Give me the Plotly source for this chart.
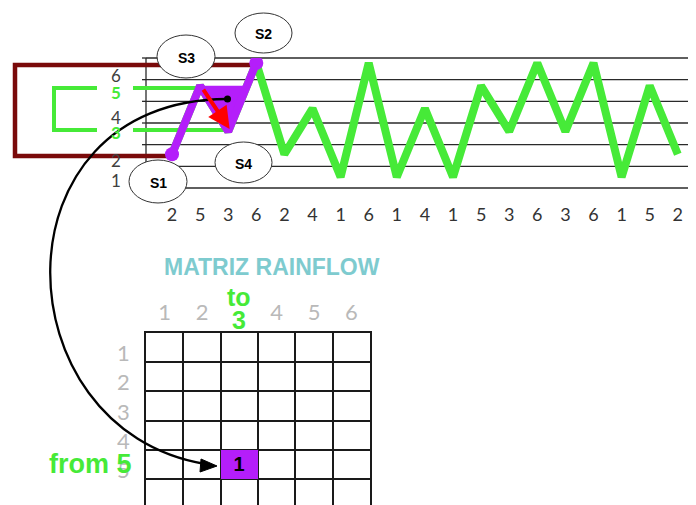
import plotly.graph_objects as go

# load history (levels)
levels = [2, 5, 3, 6, 2, 4, 1, 6, 1, 4, 1, 5, 3, 6, 3, 6, 1, 5, 2]
level_labels = ["1", "2", "3", "4", "5", "6"]

# the extracted cycle: S1 -> S3 -> S4 -> S2
cycle_idx = [0, 1, 2, 3]
cycle_names = ["S1", "S3", "S4", "S2"]

# rainflow matrix
matrix_rows = [1, 2, 3, 4, 5, 6]   # from
matrix_cols = [1, 2, 3, 4, 5, 6]   # to
cycle_from = 5
cycle_to = 3
cycle_count = 1

# page body has an 8px margin, so the figure is made that much smaller
OFF = 8
W, H = 696 - OFF, 505 - OFF
GREEN = "#46ea38"
PURPLE = "#b41efa"
DARKRED = "#7a0a0a"
TEAL = "#7ecbcf"
GRAY = "#b9b9b9"
FONT = "Lato"


def px(x):
    return (x - OFF) / W


def py(y):
    return 1 - (y - OFF) / H


fig = go.Figure()

# load history
fig.add_trace(go.Scatter(
    x=list(range(len(levels))), y=levels, mode="lines",
    line=dict(color=GREEN, width=8), hoverinfo="skip", showlegend=False))

# cycle highlight: triangle between S3, S4 and where S4->S2 crosses the S3 level
cx = cycle_idx
cy = [levels[i] for i in cycle_idx]
x_cross = cx[2] + (cy[1] - cy[2]) / (cy[3] - cy[2])
fig.add_trace(go.Scatter(
    x=[cx[1], cx[2], x_cross, cx[1]], y=[cy[1], cy[2], cy[1], cy[1]],
    mode="lines", fill="toself", fillcolor=PURPLE, line=dict(width=0),
    hoverinfo="skip", showlegend=False))
fig.add_trace(go.Scatter(
    x=cx, y=cy, mode="lines", line=dict(color=PURPLE, width=8),
    hoverinfo="skip", showlegend=False))
fig.add_trace(go.Scatter(
    x=[cx[0], cx[-1]], y=[cy[0], cy[-1]], mode="markers",
    marker=dict(color=PURPLE, size=14), hoverinfo="skip", showlegend=False))

# rainflow matrix
z = [[None for _ in matrix_cols] for _ in matrix_rows]
txt = [["" for _ in matrix_cols] for _ in matrix_rows]
z[matrix_rows.index(cycle_from)][matrix_cols.index(cycle_to)] = cycle_count
txt[matrix_rows.index(cycle_from)][matrix_cols.index(cycle_to)] = str(cycle_count)
fig.add_trace(go.Heatmap(
    z=z, x=matrix_cols, y=matrix_rows, text=txt, texttemplate="<b>%{text}</b>",
    textfont=dict(family="Liberation Sans", size=20, color="black"),
    colorscale=[[0, PURPLE], [1, PURPLE]], zmin=0, zmax=1, showscale=False,
    hoverinfo="skip", xaxis="x2", yaxis="y2"))

shapes = []
# chart rulings
top, bot = 58, 188
for k in range(7):
    yy = top + k * (bot - top) / 6
    shapes.append(dict(type="line", xref="paper", yref="paper", layer="below",
                       x0=px(146), x1=px(696), y0=py(yy), y1=py(yy),
                       line=dict(color="#2a2a2a", width=1.3)))
    shapes.append(dict(type="line", xref="paper", yref="paper", layer="below",
                       x0=px(142), x1=px(146), y0=py(yy), y1=py(yy),
                       line=dict(color="#2a2a2a", width=1.3)))
shapes.append(dict(type="line", xref="paper", yref="paper", layer="below",
                   x0=px(146), x1=px(146), y0=py(top), y1=py(bot),
                   line=dict(color="#2a2a2a", width=1.3)))
# range box (dark red) and half-cycle bracket (green)
shapes.append(dict(type="path", xref="paper", yref="paper", layer="below",
                   path=f"M {px(257)},{py(65)} L {px(15)},{py(65)} L {px(15)},{py(156)} L {px(172)},{py(156)}",
                   line=dict(color=DARKRED, width=4.5)))
shapes.append(dict(type="path", xref="paper", yref="paper", layer="below",
                   path=f"M {px(97)},{py(88)} L {px(54)},{py(88)} L {px(54)},{py(130)} L {px(97)},{py(130)}",
                   line=dict(color=GREEN, width=4)))
for y0, x1 in [(88, 200), (130, 224)]:
    shapes.append(dict(type="line", xref="paper", yref="paper", layer="below",
                       x0=px(133), x1=px(x1), y0=py(y0), y1=py(y0),
                       line=dict(color=GREEN, width=4)))
# ellipses with the point names
ellipses = {"S1": (129, 187, 160, 203), "S3": (157, 215, 35, 78),
            "S4": (215, 272, 142, 183), "S2": (235, 292, 13, 53)}
annotations = []
for name in cycle_names:
    x0, x1, y0, y1 = ellipses[name]
    shapes.append(dict(type="circle", xref="paper", yref="paper", layer="below",
                       x0=px(x0), x1=px(x1), y0=py(y1), y1=py(y0),
                       fillcolor="white", line=dict(color="#333333", width=1)))
    annotations.append(dict(x=px((x0 + x1) / 2), y=py((y0 + y1) / 2 + 1), xref="paper", yref="paper",
                            xanchor="center", yanchor="middle",
                            text=f"<b>{name}</b>", showarrow=False,
                            font=dict(family="Liberation Sans", size=14, color="black")))
# curved arrow from cycle to the matrix cell
shapes.append(dict(type="path", xref="paper", yref="paper", layer="above",
                   path=f"M {px(227)},{py(99)} C {px(-10)},{py(100)} {px(0)},{py(430)} {px(205)},{py(464)}",
                   line=dict(color="black", width=2.3)))
shapes.append(dict(type="path", xref="paper", yref="paper", layer="above",
                   path=f"M {px(217)},{py(466)} L {px(201)},{py(459)} L {px(200)},{py(472)} Z",
                   fillcolor="black", line=dict(color="black", width=1)))
shapes.append(dict(type="circle", xref="paper", yref="paper", layer="above",
                   x0=px(224), x1=px(231), y0=py(102.5), y1=py(95.5),
                   fillcolor="black", line=dict(color="black", width=0)))

# level labels beside the chart
label_y = [181, 160, 133, 117, 92, 75]
for lab, yy in zip(level_labels, label_y):
    hi = int(lab) in (cycle_from, cycle_to)
    annotations.append(dict(x=px(116), y=py(yy), xref="paper", yref="paper",
                            xanchor="center", yanchor="middle",
                            text=f"<b>{lab}</b>" if hi else lab, showarrow=False,
                            font=dict(family=FONT, size=17, color=GREEN if hi else "#404040")))

# red arrow along the S3 -> S4 range
annotations.append(dict(x=cx[2] + 0.05, y=cy[2] + 0.1, ax=cx[1] + 0.08, ay=cy[1] - 0.1,
                        xref="x", yref="y", axref="x", ayref="y", text="",
                        showarrow=True, arrowhead=2, arrowsize=1.1, arrowwidth=4,
                        arrowcolor="#ff0000"))

# matrix titles
annotations.append(dict(x=px(272), y=py(267), xref="paper", yref="paper",
                        xanchor="center", yanchor="middle",
                        text="<b>MATRIZ RAINFLOW</b>", showarrow=False,
                        font=dict(family="Liberation Sans", size=23, color=TEAL)))
annotations.append(dict(x=cycle_to, y=py(297), xref="x2", yref="paper",
                        xanchor="center", yanchor="middle",
                        text="<b>to</b>", showarrow=False,
                        font=dict(family="Liberation Sans", size=25, color=GREEN)))
annotations.append(dict(x=cycle_to, y=py(320), xref="x2", yref="paper",
                        xanchor="center", yanchor="middle",
                        text=f"<b>{cycle_to}</b>", showarrow=False,
                        font=dict(family="Liberation Sans", size=25, color=GREEN)))
annotations.append(dict(x=px(134), y=cycle_from, xref="paper", yref="y2",
                        xanchor="right", yanchor="middle",
                        text=f"<b>from {cycle_from}</b>", showarrow=False,
                        font=dict(family="Liberation Sans", size=27, color=GREEN)))

fig.update_layout(
    width=W, height=H, margin=dict(l=0, r=0, t=0, b=0),
    paper_bgcolor="white", plot_bgcolor="rgba(0,0,0,0)",
    shapes=shapes, annotations=annotations,
    xaxis=dict(domain=[px(146), 1], range=[(146 - 172) / 28.1, (696 - 172) / 28.1],
               tickmode="array", tickvals=list(range(len(levels))),
               ticktext=[str(v) for v in levels], ticks="", ticklabelstandoff=14,
               tickfont=dict(family=FONT, size=18, color="#333333"),
               showgrid=False, zeroline=False, showline=False, anchor="y"),
    yaxis=dict(domain=[py(188), py(58)], range=[6 - 125 / 22.8, 6 + 5 / 22.8],
               visible=False, anchor="x"),
    xaxis2=dict(domain=[px(146), px(370)], range=[0.5, 6.5], side="top",
                tickmode="array", tickvals=matrix_cols,
                ticktext=["" if c == cycle_to else str(c) for c in matrix_cols],
                ticks="", ticklabelstandoff=2,
                tickfont=dict(family=FONT, size=22, color=GRAY),
                showline=True, linecolor="#1a1a1a", linewidth=1.5,
                showgrid=False, zeroline=False, anchor="y2",
                minor=dict(tickmode="array", tickvals=[c + 0.5 for c in matrix_cols[:-1]],
                           showgrid=True, gridcolor="#1a1a1a", gridwidth=1.5, ticks="")),
    yaxis2=dict(domain=[0, py(333)], range=[0.5 + (505 - 333) / 29.2, 0.5],
                tickmode="array", tickvals=[r + 0.2 for r in matrix_rows],
                ticktext=[str(r) for r in matrix_rows], ticks="", ticklabelstandoff=10,
                tickfont=dict(family=FONT, size=22, color=GRAY),
                showline=True, mirror=True, linecolor="#1a1a1a", linewidth=1.5,
                showgrid=False, zeroline=False, anchor="x2",
                minor=dict(tickmode="array", tickvals=[r + 0.5 for r in matrix_rows],
                           showgrid=True, gridcolor="#1a1a1a", gridwidth=1.5, ticks="")),
)

fig.write_html("out.html")
